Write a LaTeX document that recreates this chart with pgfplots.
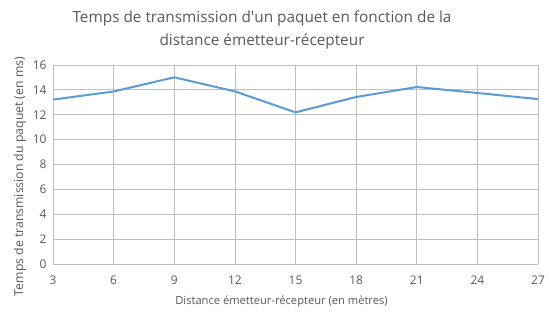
\documentclass[border=0pt]{standalone}
\usepackage{fontspec}
\setmainfont{Open Sans}
\usepackage{pgfplots}
\pgfplotsset{compat=1.18}
\definecolor{txt}{HTML}{595959}
\definecolor{grid}{HTML}{D9D9D9}
\definecolor{axl}{HTML}{BFBFBF}
\definecolor{ser}{HTML}{5B9BD5}
\begin{document}
\begin{tikzpicture}[x=1bp,y=1bp]
\path[use as bounding box] (0,0) rectangle (549,313);
\begin{axis}[
  at={(53bp,49bp)}, anchor=south west,
  scale only axis, width=485bp, height=199bp,
  xmin=3, xmax=27, ymin=0, ymax=16,
  xtick={3,6,...,27}, ytick={0,2,...,16},
  grid=major,
  major grid style={grid, line width=0.75bp},
  axis line style={draw=none},
  tick style={draw=none},
  /pgf/number format/assume math mode=true,
  ticklabel style={font=\fontsize{12}{13}\selectfont, text=txt},
  xticklabel style={yshift=-8bp},
  yticklabel style={xshift=-3bp},
  xlabel={Distance émetteur-récepteur (en mètres)},
  ylabel={Temps de transmission du paquet (en ms)},
  xlabel style={font=\fontsize{11.2}{13}\selectfont, text=txt, yshift=-5bp, xshift=-14bp},
  ylabel style={font=\fontsize{12.3}{13}\selectfont, text=txt, yshift=0bp, xshift=-12bp},
  title={Temps de transmission d\textquotesingle un paquet en fonction de la\\distance émetteur-récepteur},
  title style={font=\fontsize{15.4}{23}\selectfont, text=txt, align=center, at={(0.431,1)}, yshift=6bp},
  clip=false,
]
\draw[axl, line width=0.75bp] (axis cs:3,0) -- (axis cs:27,0);
\addplot[ser, line width=2bp, line join=round] coordinates {
 (3,13.22) (6,13.87) (9,15.01) (12,13.88) (15,12.19) (18,13.43) (21,14.23) (24,13.75) (27,13.26)
};
\end{axis}
\end{tikzpicture}
\end{document}
